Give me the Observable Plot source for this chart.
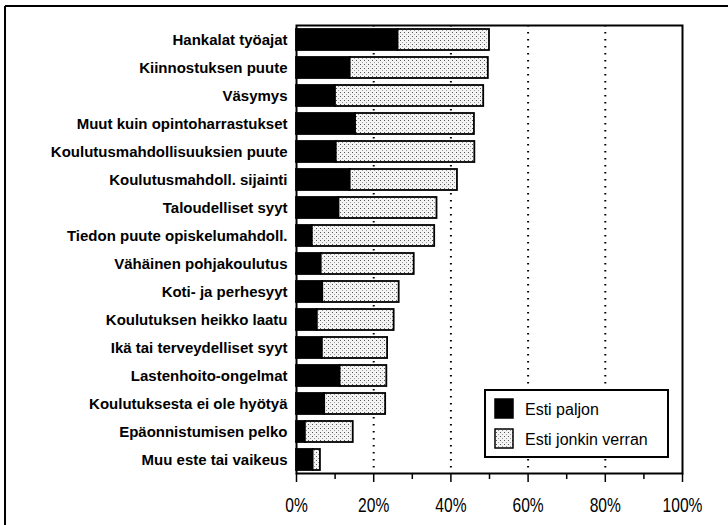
<!DOCTYPE html>
<html>
<head>
<meta charset="utf-8">
<script src="https://cdn.jsdelivr.net/npm/d3@7"></script>
<script src="https://cdn.jsdelivr.net/npm/@observablehq/plot@0.6"></script>
<style>
  html, body { margin: 0; padding: 0; background: #fff; }
  #chart { width: 728px; height: 525px; }
</style>
</head>
<body>
<div id="chart"></div>
<script>
const categories = [
  "Hankalat työajat",
  "Kiinnostuksen puute",
  "Väsymys",
  "Muut kuin opintoharrastukset",
  "Koulutusmahdollisuuksien puute",
  "Koulutusmahdoll. sijainti",
  "Taloudelliset syyt",
  "Tiedon puute opiskelumahdoll.",
  "Vähäinen pohjakoulutus",
  "Koti- ja perhesyyt",
  "Koulutuksen heikko laatu",
  "Ikä tai terveydelliset syyt",
  "Lastenhoito-ongelmat",
  "Koulutuksesta ei ole hyötyä",
  "Epäonnistumisen pelko",
  "Muu este tai vaikeus"
];
const seriesNames = ["Esti paljon", "Esti jonkin verran"];
const estiPaljon = [26.3, 13.9, 10.1, 15.3, 10.3, 13.9, 11.0, 4.1, 6.4, 6.8, 5.4, 6.7, 11.3, 7.3, 2.3, 4.3];
const estiJonkin = [23.7, 35.8, 38.4, 30.8, 35.9, 27.8, 25.4, 31.7, 24.1, 19.8, 19.9, 16.9, 12.1, 15.8, 12.4, 1.9];
const majorTicks = [0, 20, 40, 60, 80, 100];
const minorTicks = [10, 30, 50, 70, 90];
const gridTicks = [20, 40, 60, 80];

const rows = [];
categories.forEach((c, i) => {
  rows.push({category: c, series: seriesNames[0], value: estiPaljon[i]});
  rows.push({category: c, series: seriesNames[1], value: estiJonkin[i]});
});

const chart = Plot.plot({
  width: 728,
  height: 525,
  marginLeft: 296,
  marginRight: 46,
  marginTop: 25,
  marginBottom: 52,
  style: {fontFamily: "'Liberation Sans', Arial, sans-serif", fontSize: "14px", color: "#000", background: "#fff"},
  x: {domain: [0, 100]},
  y: {domain: categories, paddingInner: 0.25, paddingOuter: 0.125},
  color: {domain: seriesNames, range: ["#000", "url(#dots)"]},
  marks: [
    Plot.ruleX(gridTicks, {stroke: "#000", strokeWidth: 2, strokeDasharray: "1.5,5.5"}),
    Plot.barX(rows, Plot.stackX({
      y: "category", x: "value", fill: "series", order: seriesNames,
      stroke: "#000", strokeWidth: 1.8
    })),
    Plot.frame({stroke: "#000", strokeWidth: 2}),
    Plot.axisY({tickSize: 0, tickPadding: 9, fontSize: 15, fontWeight: "bold", label: null}),
    Plot.axisX({ticks: majorTicks, tickSize: 9, tickPadding: 15, tickFormat: d => d + "%", fontSize: 20, label: null, strokeWidth: 1.5}),
    Plot.axisX({ticks: minorTicks, tickSize: 6, tickFormat: () => "", label: null, strokeWidth: 1.5})
  ]
});

const svg = d3.select(chart.tagName.toLowerCase() === "svg" ? chart : chart.querySelector("svg"));

// dotted fill pattern
const defs = svg.insert("defs", ":first-child");
const pat = defs.append("pattern").attr("id", "dots").attr("patternUnits", "userSpaceOnUse")
  .attr("width", 4).attr("height", 4);
pat.append("rect").attr("width", 4).attr("height", 4).attr("fill", "#f4f4f4");
pat.append("rect").attr("x", 0).attr("y", 0).attr("width", 1).attr("height", 1).attr("fill", "#555");
pat.append("rect").attr("x", 2).attr("y", 2).attr("width", 1).attr("height", 1).attr("fill", "#999");

// condensed x tick labels
svg.selectAll("g[aria-label='x-axis tick label'] text").each(function() {
  const t = this.getAttribute("transform") || "";
  this.setAttribute("transform", t + " scale(0.78,1)");
});

// outer scanned border (top and left)
svg.append("line").attr("x1", 5).attr("x2", 728).attr("y1", 6).attr("y2", 6).attr("stroke", "#000").attr("stroke-width", 2);
svg.append("line").attr("x1", 5).attr("x2", 5).attr("y1", 6).attr("y2", 525).attr("stroke", "#000").attr("stroke-width", 2);

// legend
const lg = svg.append("g").attr("font-size", 16).attr("fill", "#000").attr("text-anchor", "start");
lg.append("rect").attr("x", 485).attr("y", 390).attr("width", 183).attr("height", 67)
  .attr("fill", "#fff").attr("stroke", "#000").attr("stroke-width", 2);
seriesNames.forEach((s, i) => {
  lg.append("rect").attr("x", 495).attr("y", 399 + i * 30).attr("width", 18).attr("height", 19)
    .attr("fill", i === 0 ? "#000" : "url(#dots)").attr("stroke", "#000").attr("stroke-width", 1.5);
  lg.append("text").attr("x", 525).attr("y", 409 + i * 30).attr("dy", "0.35em")
    .attr("text-anchor", "start").text(s);
});

document.getElementById("chart").appendChild(chart);
</script>
</body>
</html>
